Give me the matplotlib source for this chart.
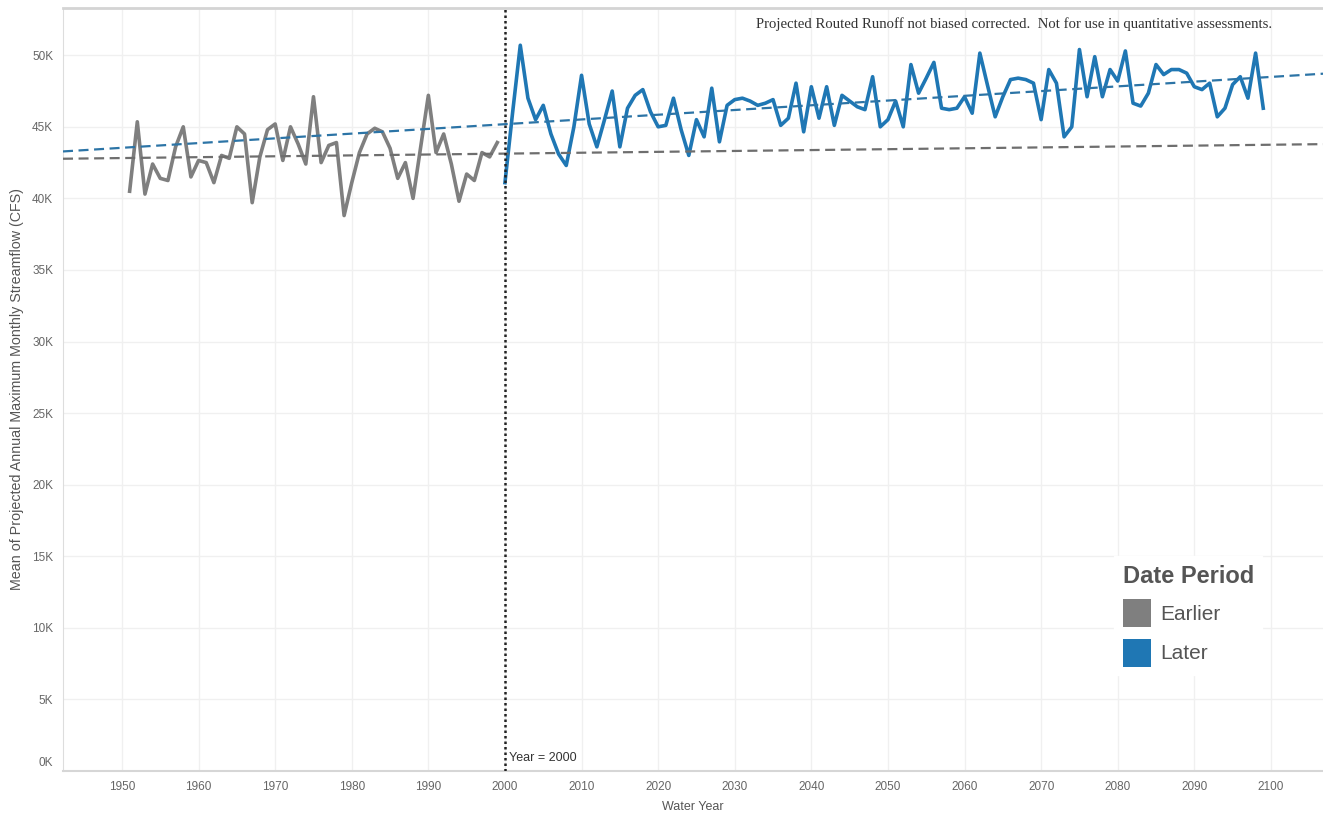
import matplotlib.pyplot as plt
from matplotlib.patches import Patch
from matplotlib.transforms import ScaledTranslation

# Values (thousands of CFS)
years_earlier = list(range(1951, 2000))
flow_earlier = [40.5, 45.35, 40.3, 42.4, 41.4, 41.25, 43.6, 45.0, 41.5, 42.65,
                42.5, 41.1, 43.0, 42.8, 45.0, 44.5, 39.7, 42.9, 44.8, 45.2,
                42.65, 45.0, 43.8, 42.4, 47.1, 42.5, 43.7, 43.9, 38.8, 41.1,
                43.2, 44.5, 44.9, 44.65, 43.5, 41.4, 42.5, 40.0, 43.6, 47.2,
                43.2, 44.5, 42.4, 39.8, 41.7, 41.25, 43.2, 42.9, 43.9]

years_later = list(range(2000, 2100))
flow_later = [41.1, 46.0, 50.7, 47.0, 45.5, 46.5, 44.5, 43.1, 42.3, 45.0,
              48.6, 45.2, 43.6, 45.5, 47.5, 43.6, 46.3, 47.2, 47.6, 46.05,
              45.0, 45.1, 47.0, 44.8, 43.0, 45.5, 44.3, 47.7, 43.95, 46.5,
              46.9, 47.0, 46.8, 46.5, 46.65, 46.9, 45.1, 45.6, 48.05, 44.65,
              47.8, 45.6, 47.8, 45.1, 47.2, 46.8, 46.4, 46.2, 48.5, 45.0,
              45.5, 46.8, 45.0, 49.35, 47.35, 48.4, 49.5, 46.3, 46.2, 46.3,
              47.1, 45.95, 50.15, 47.9, 45.7, 47.1, 48.3, 48.4, 48.3, 48.05,
              45.5, 49.0, 48.05, 44.3, 45.0, 50.4, 47.1, 49.9, 47.1, 49.0,
              48.2, 50.3, 46.65, 46.45, 47.35, 49.35, 48.65, 49.0, 49.0, 48.75,
              47.8, 47.6, 48.05, 45.7, 46.3, 47.95, 48.5, 47.0, 50.15, 46.3]

# trend lines as drawn across the whole axis
trend_years = [1942.3, 2106.8]
trend_earlier = [42.77, 43.79]
trend_later = [43.28, 48.71]

x_ticks = list(range(1950, 2101, 10))
y_ticks = list(range(0, 51, 5))

plt.rcParams['font.family'] = ['Liberation Sans', 'DejaVu Sans']

fig = plt.figure(figsize=(13.23, 8.18), dpi=100)
ax = fig.add_axes([63 / 1323, 1 - 771 / 818, 1 - 63 / 1323, (771 - 8) / 818])

ax.plot(years_earlier, flow_earlier, color='#7f7f7f', lw=2.6, zorder=3)
ax.plot(years_later, flow_later, color='#1f77b4', lw=2.6, zorder=3)
ax.plot(trend_years, trend_earlier, color='#6e6e6e', lw=1.6,
        ls=(0, (4.5, 2.5)), zorder=4)
ax.plot(trend_years, trend_later, color='#2c74a6', lw=1.6,
        ls=(0, (4.5, 2.5)), zorder=4)

ax.axvline(2000, color='#222222', lw=1.8, ls=(0, (1, 1.2)), zorder=5)
ax.text(2000.5, 0.9, 'Year = 2000', fontsize=9, color='#333333',
        va='center', ha='left')

ax.set_xlim(1942.3, 2106.8)
ax.set_ylim(0, 53.3)
ax.set_xticks(x_ticks)
ax.set_yticks(y_ticks)
ax.set_yticklabels([f'{v}K' for v in y_ticks])
ax.tick_params(length=0, labelsize=8.5, labelcolor='#666666')
ax.tick_params(axis='x', pad=7)
ax.tick_params(axis='y', pad=7)
ax.grid(color='#f0f0f0', lw=1, zorder=0)

ax.spines['right'].set_visible(False)
ax.spines['top'].set_color('#d4d4d4')
ax.spines['top'].set_linewidth(2)
ax.spines['left'].set_color('#dddddd')
ax.spines['bottom'].set_color('#d6d6d6')
ax.spines['bottom'].set_linewidth(1.5)

ax.set_xlabel('Water Year', fontsize=9, color='#555555', labelpad=6)
ax.set_ylabel('Mean of Projected Annual Maximum Monthly Streamflow (CFS)',
              fontsize=10.3, color='#555555', va='center')
ax.yaxis.set_label_coords(-(63 - 17) / 1260, 0.5)

# 0K label sits a bit above the axis line, like the original
lab0 = ax.yaxis.get_major_ticks()[0].label1
lab0.set_transform(lab0.get_transform() + ScaledTranslation(0, 0.09, fig.dpi_scale_trans))

ax.text(0.9595, 0.979,
        'Projected Routed Runoff not biased corrected.  Not for use in quantitative assessments.',
        transform=ax.transAxes, ha='right', va='center', fontsize=10.6,
        family='Liberation Serif', color='#333333')

handles = [Patch(facecolor='#7f7f7f', label='Earlier'),
           Patch(facecolor='#1f77b4', label='Later')]
leg = ax.legend(handles=handles, title='Date Period', loc='upper left',
                bbox_to_anchor=(0.826, 0.295), fontsize=15,
                title_fontproperties={'size': 17, 'weight': 'bold'},
                handlelength=1.35, handleheight=1.69, handletextpad=0.45,
                labelspacing=0.55, borderpad=0.4, alignment='left',
                frameon=True, fancybox=False, edgecolor='white',
                facecolor='white', framealpha=1)
leg.get_title().set_color('#555555')
for t in leg.get_texts():
    t.set_color('#555555')
leg.set_zorder(6)

plt.savefig('out.png', dpi=100)
plt.close()
